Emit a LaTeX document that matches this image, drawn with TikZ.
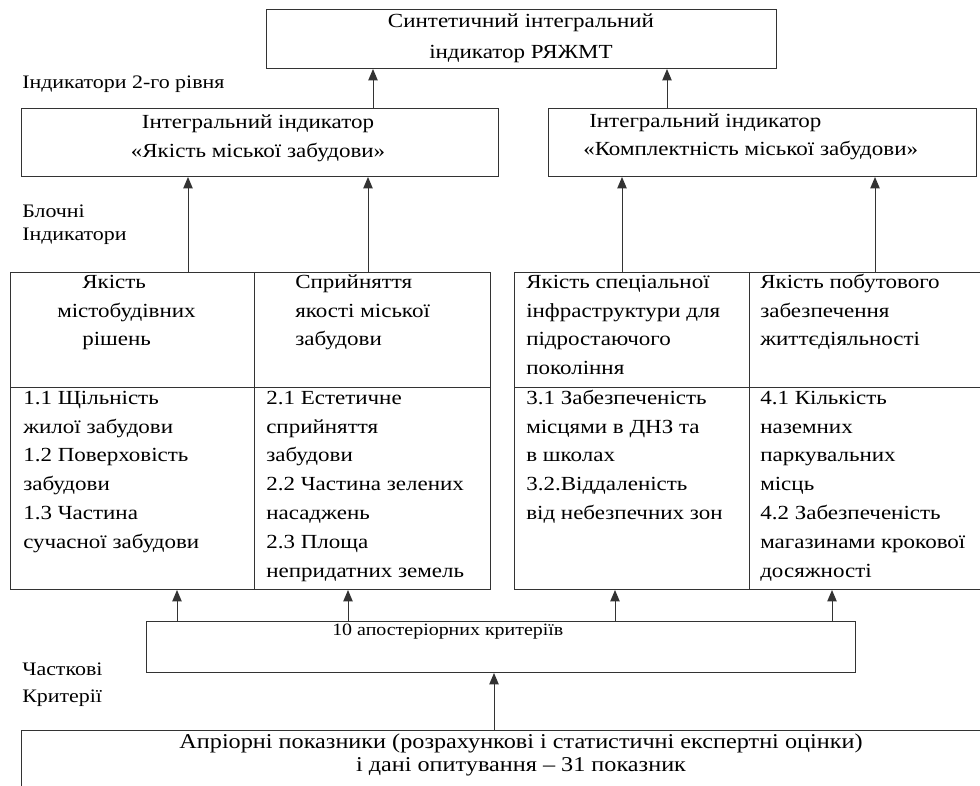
\documentclass[tikz,border=0pt]{standalone}
\usepackage{fontspec}
\setmainfont{Liberation Serif}[FakeStretch=1.15]
\usetikzlibrary{arrows.meta}
\begin{document}
\begin{tikzpicture}[x=0.75pt,y=-0.75pt,
  box/.style={draw=black!80, line width=0.75pt, inner sep=0pt, anchor=north west},
  arr/.style={draw=black!80, line width=0.75pt, -{Triangle[width=7pt,length=8.5pt]}},
  txt/.style={inner sep=0pt, font=\fontsize{15}{21.6}\selectfont, align=left, anchor=north west},
  lbl/.style={inner sep=0pt, font=\fontsize{14.3}{17}\selectfont, anchor=base west},
]
\useasboundingbox (0,0) rectangle (980,785);
% boxes
\node[box, minimum width=382.5pt, minimum height=44.25pt] (top) at (266,9) {};
\node[box, minimum width=357.75pt, minimum height=51pt] (L2) at (21,108) {};
\node[box, minimum width=321pt, minimum height=51pt] (R2) at (548,108) {};
\node[box, minimum width=183pt, minimum height=86.25pt] (c1h) at (10,272) {};
\node[box, minimum width=177pt, minimum height=86.25pt] (c2h) at (254,272) {};
\node[box, minimum width=183pt, minimum height=151.5pt] (c1b) at (10,387) {};
\node[box, minimum width=177pt, minimum height=151.5pt] (c2b) at (254,387) {};
\node[box, minimum width=176.25pt, minimum height=86.25pt] (c3h) at (514,272) {};
\node[box, minimum width=174.75pt, minimum height=86.25pt] (c4h) at (749,272) {};
\node[box, minimum width=176.25pt, minimum height=151.5pt] (c3b) at (514,387) {};
\node[box, minimum width=174.75pt, minimum height=151.5pt] (c4b) at (749,387) {};
\node[box, minimum width=531.75pt, minimum height=38.25pt] (ten) at (146,621) {};
\node[box, minimum width=723pt, minimum height=60pt] (bot) at (21,730) {};
% texts
\node[txt, anchor=north, align=center, font=\fontsize{15}{23.25}\selectfont] (toptxt) at (521,5.3) {\strut Синтетичний інтегральний\\індикатор РЯЖМТ};
\node[txt, anchor=north, align=center, font=\fontsize{15}{21.75}\selectfont] (L2txt) at (258,107.7) {\strut Інтегральний індикатор\\«Якість міської забудови»};
\node[txt, font=\fontsize{15}{21}\selectfont] (R2txt) at (583,107.4) {\strut\hspace*{4.5pt}Інтегральний індикатор\\«Комплектність міської забудови»};
\node[txt] (c1t) at (57,267.8) {\strut\hspace*{18.75pt}Якість\\містобудівних\\\hspace*{18.75pt}рішень};
\node[txt] (c2t) at (295,267.8) {\strut Сприйняття\\якості міської\\забудови};
\node[txt] (c3t) at (526,267.8) {\strut Якість спеціальної\\інфраструктури для\\підростаючого\\покоління};
\node[txt] (c4t) at (760,267.8) {\strut Якість побутового\\забезпечення\\життєдіяльності};
\node[txt] (c1l) at (23,383.8) {\strut 1.1 Щільність\\жилої забудови\\1.2 Поверховість\\забудови\\1.3 Частина\\сучасної забудови};
\node[txt] (c2l) at (266,383.8) {\strut 2.1 Естетичне\\сприйняття\\забудови\\2.2 Частина зелених\\насаджень\\2.3 Площа\\непридатних земель};
\node[txt] (c3l) at (526,383.8) {\strut 3.1 Забезпеченість\\місцями в ДНЗ та\\в школах\\3.2.Віддаленість\\від небезпечних зон};
\node[txt] (c4l) at (760,383.8) {\strut 4.1 Кількість\\наземних\\паркувальних\\місць\\4.2 Забезпеченість\\магазинами крокової\\досяжності};
\node[lbl, font=\fontsize{13}{15}\selectfont] (tentxt) at (332,635) {10 апостеріорних критеріїв};
\node[txt, anchor=north, align=center, font=\fontsize{15.8}{17.6}\selectfont] (bottxt) at (521,731.6) {\strut Апріорні показники (розрахункові і статистичні експертні оцінки)\\і дані опитування – 31 показник};
% side labels
\node[lbl] (lab1) at (22,88) {Індикатори 2-го рівня};
\node[lbl] (lab2) at (22,217) {Блочні};
\node[lbl] (lab3) at (22,240) {Індикатори};
\node[lbl] (lab4) at (22,675) {Часткові};
\node[lbl] (lab5) at (22,702) {Критерії};
% arrow x positions
\coordinate (xa) at (373,0);
\coordinate (xb) at (667,0);
\coordinate (xc) at (188,0);
\coordinate (xd) at (368,0);
\coordinate (xe) at (622,0);
\coordinate (xf) at (875,0);
\coordinate (xg) at (177,0);
\coordinate (xh) at (348,0);
\coordinate (xi) at (615,0);
\coordinate (xj) at (832,0);
\coordinate (xk) at (494,0);
% arrows
\draw[arr] (xa |- L2.north) -- (xa |- top.south);
\draw[arr] (xb |- R2.north) -- (xb |- top.south);
\draw[arr] (xc |- c1h.north) -- (xc |- L2.south);
\draw[arr] (xd |- c2h.north) -- (xd |- L2.south);
\draw[arr] (xe |- c3h.north) -- (xe |- R2.south);
\draw[arr] (xf |- c4h.north) -- (xf |- R2.south);
\draw[arr] (xg |- ten.north) -- (xg |- c1b.south);
\draw[arr] (xh |- ten.north) -- (xh |- c2b.south);
\draw[arr] (xi |- ten.north) -- (xi |- c3b.south);
\draw[arr] (xj |- ten.north) -- (xj |- c4b.south);
\draw[arr] (xk |- bot.north) -- (xk |- ten.south);
\end{tikzpicture}
\end{document}
